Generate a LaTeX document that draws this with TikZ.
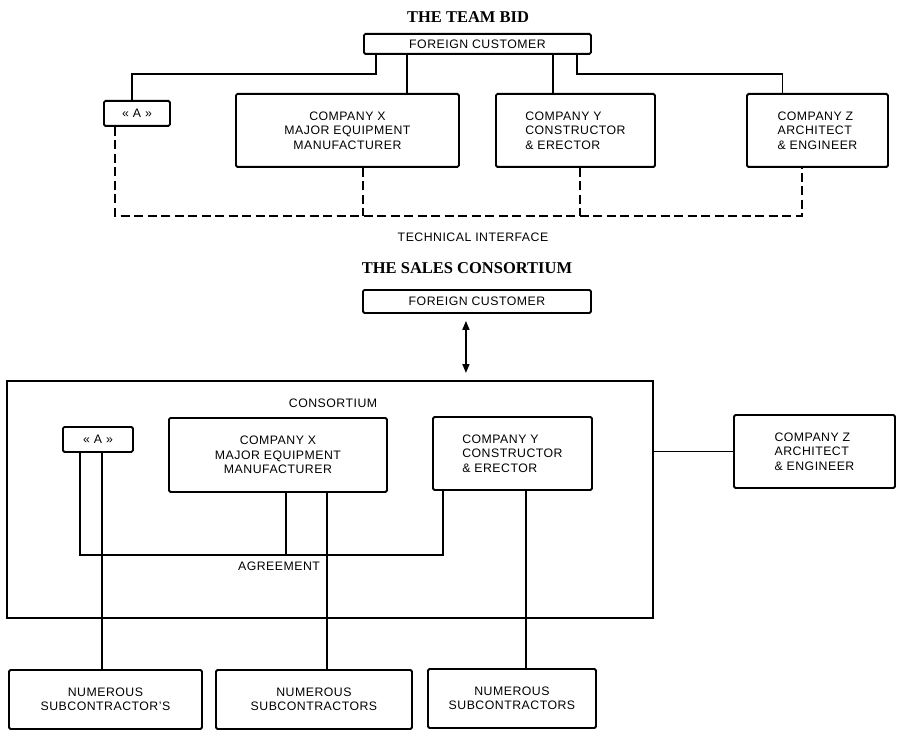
\documentclass[tikz,border=0pt]{standalone}
\usepackage{fontspec}
\usepackage{tikz}
\usetikzlibrary{positioning,arrows.meta}
\newfontfamily\bodyFamily[LetterSpace=4]{Liberation Sans}
\newfontfamily\titleFamily{Liberation Serif}
\newcommand{\bodyFont}{\bodyFamily\fontsize{12.3}{14.6}\selectfont}
\newcommand{\titleFont}{\titleFamily\bfseries\fontsize{16.5}{19}\selectfont}
\tikzstyle{chart} = [x = 1pt, y = -1pt, every node/.style={inner sep=0pt}]
\tikzstyle{orgBoxStyle} = [draw, line width=1.9pt, rounded corners=1.5pt, anchor=north west, align=center, font=\bodyFont]
\tikzstyle{leftBoxStyle} = [orgBoxStyle, align=left]
\tikzstyle{consortiumStyle} = [draw, line width=1.5pt, anchor=north west]
\tikzstyle{linkLine} = [line width=1.6pt]
\tikzstyle{techLine} = [line width=1.8pt, dash pattern=on 9pt off 4.5pt]
\tikzstyle{twoWay} = [line width=1.6pt, {Triangle[length=9pt,width=7pt]}-{Triangle[length=9pt,width=7pt]}, shorten <=7pt, shorten >=7pt]
\tikzstyle{titleText} = [font=\titleFont]
\tikzstyle{labelText} = [font=\bodyFont]
\newcommand{\orgBox}[6]{\node [orgBoxStyle, minimum width=#4, minimum height=#5] (#1) at (#2, #3) {#6};}
\newcommand{\leftBox}[6]{\node [leftBoxStyle, minimum width=#4, minimum height=#5] (#1) at (#2, #3) {#6};}

\begin{document}
\begin{tikzpicture}[chart]
  \useasboundingbox (0,0) rectangle (899,730);

  % the team bid
  \node [titleText] (teamTitle) at (468,17) {THE TEAM BID};
  \orgBox{custA}{363}{33}{227}{20}{FOREIGN CUSTOMER}
  \orgBox{aA}{103}{100}{66}{25}{«\hspace{4pt}A\hspace{4pt}»}
  \orgBox{xA}{235}{93}{223}{73}{COMPANY X\\MAJOR EQUIPMENT\\MANUFACTURER}
  \leftBox{yA}{495}{93}{159}{73}{COMPANY Y\\CONSTRUCTOR\\\& ERECTOR}
  \leftBox{zA}{746}{93}{141}{73}{COMPANY Z\\ARCHITECT\\\& ENGINEER}
  \node [labelText] (techLabel) at (473,237) {TECHNICAL INTERFACE};

  \coordinate (tapA) at ([xshift=13]custA.south west);
  \coordinate (tapX) at ([xshift=44]custA.south west);
  \coordinate (tapY) at ([xshift=190]custA.south west);
  \coordinate (tapZ) at ([xshift=214]custA.south west);
  \draw [linkLine] (tapA) -- ++(0,19) -| ([xshift=-5]aA.north);
  \draw [linkLine] (tapX) -- (tapX |- xA.north);
  \draw [linkLine] (tapY) -- (tapY |- yA.north);
  \draw [linkLine] (tapZ) -- ++(0,19) -| ([xshift=-35]zA.north);

  \coordinate (techA) at ([xshift=12]aA.south west);
  \coordinate (techX) at ([xshift=128]xA.south west);
  \coordinate (techY) at ([xshift=85]yA.south west);
  \coordinate (techZ) at ([xshift=56]zA.south west);
  \draw [techLine] (techA) -- ++(0,89) coordinate (techBus) -| (techZ);
  \draw [techLine] (techX) -- (techX |- techBus);
  \draw [techLine] (techY) -- (techY |- techBus);

  % the sales consortium
  \node [titleText] (salesTitle) at (467,268) {THE SALES CONSORTIUM};
  \orgBox{custB}{362}{289}{228}{23}{FOREIGN CUSTOMER}
  \node [consortiumStyle, minimum width=646, minimum height=237] (consBox) at (6,380) {};
  \node [labelText] (consLabel) at (333,403) {CONSORTIUM};
  \orgBox{aB}{62}{426}{70}{25}{«\hspace{4pt}A\hspace{4pt}»}
  \orgBox{xB}{168}{417}{218}{74}{COMPANY X\\MAJOR EQUIPMENT\\MANUFACTURER}
  \leftBox{yB}{432}{416}{159}{73}{COMPANY Y\\CONSTRUCTOR\\\& ERECTOR}
  \leftBox{zB}{733}{414}{161}{73}{COMPANY Z\\ARCHITECT\\\& ENGINEER}
  \node [labelText] (agrLabel) at (279,566) {AGREEMENT};
  \orgBox{subA}{8}{669}{193}{59}{NUMEROUS\\SUBCONTRACTOR’S}
  \orgBox{subB}{215}{669}{196}{59}{NUMEROUS\\SUBCONTRACTORS}
  \orgBox{subC}{427}{668}{168}{59}{NUMEROUS\\SUBCONTRACTORS}

  \coordinate (linkB) at ([xshift=-11]custB.south);
  \draw [twoWay] (linkB) -- (linkB |- consBox.north);
  \draw [linkLine] (zB.west) -- (zB.west -| consBox.east);

  \coordinate (agrA) at ([xshift=18]aB.south west);
  \coordinate (agrX) at ([xshift=118]xB.south west);
  \coordinate (agrY) at ([xshift=11]yB.south west);
  \draw [linkLine] (agrA) -- ++(0,102) coordinate (agrBus) -| (agrY);
  \draw [linkLine] (agrX) -- (agrX |- agrBus);

  \coordinate (subTapA) at ([xshift=40]aB.south west);
  \coordinate (subTapX) at ([xshift=159]xB.south west);
  \coordinate (subTapY) at ([xshift=94]yB.south west);
  \draw [linkLine] (subTapA) -- (subTapA |- subA.north);
  \draw [linkLine] (subTapX) -- (subTapX |- subB.north);
  \draw [linkLine] (subTapY) -- (subTapY |- subC.north);
\end{tikzpicture}
\end{document}
